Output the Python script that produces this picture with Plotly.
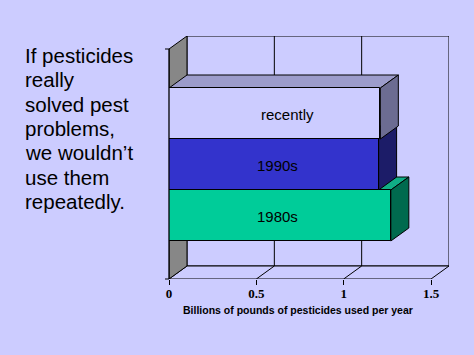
import plotly.graph_objects as go

# ---------------- data ----------------
categories = ["1980s", "1990s", "recently"]
values = [1.27, 1.20, 1.21]          # billions of pounds per year
front_colors = ["#00CC99", "#3333CC", "#CCCCFF"]
top_colors = ["#10AD85", "#26269A", "#9C9CCB"]
side_colors = ["#006A4E", "#1C1C68", "#6C6C92"]
label_xshift = [-2, 4, 13]

x_ticks = [0, 0.5, 1, 1.5]
x_tick_labels = ["0", "0.5", "1", "1.5"]
x_title = "Billions of pounds of pesticides used per year"

text_lines = ["If pesticides", "really", "solved pest", "problems,",
              "we wouldn\u2019t", "use them", "repeatedly."]

# ---------------- style / geometry ----------------
BG = "#CCCCFF"
SANS = "Liberation Sans, Arial, sans-serif"
SERIF = "Liberation Serif, Times New Roman, serif"
X_MAX = 1.5
DX, DY = 0.103, 0.255          # depth offset of the 3D box (data units)
Y_LO, Y_HI = -1.245, 3.265     # front plane vertical extent
YR = [Y_LO, Y_HI + DY]
XR = [0, X_MAX + DX]
ML, MT, MB, MR = 169, 36, 76, 25
W, H = 474, 355
PH = H - MT - MB


def py_to_paper(py):
    return (H - MB - py) / PH


def y_to_paper(y):
    return (y - YR[0]) / (YR[1] - YR[0])


def poly(pts):
    return "M " + " L ".join(f"{x},{y}" for x, y in pts) + " Z"


ypos = list(range(len(categories)))

fig = go.Figure()
fig.add_trace(go.Bar(
    orientation="h", x=values, y=ypos, base=0, width=1,
    marker=dict(color=front_colors, line=dict(color="black", width=1)),
    hoverinfo="skip", showlegend=False,
))

shapes = []
line_k = dict(color="black", width=1)
# back wall
shapes.append(dict(type="rect", xref="x", yref="y", layer="below",
                   x0=DX, x1=X_MAX + DX, y0=Y_LO + DY, y1=Y_HI + DY,
                   fillcolor=BG, line=line_k))
# floor
shapes.append(dict(type="path", xref="x", yref="y", layer="below",
                   path=poly([(0, Y_LO), (DX, Y_LO + DY), (X_MAX + DX, Y_LO + DY), (X_MAX, Y_LO)]),
                   fillcolor=BG, line=line_k))
# left wall
shapes.append(dict(type="path", xref="x", yref="y", layer="below",
                   path=poly([(0, Y_LO), (DX, Y_LO + DY), (DX, Y_HI + DY), (0, Y_HI)]),
                   fillcolor="#878787", line=line_k))
# gridlines on back wall + floor
for t in x_ticks[1:-1]:
    shapes.append(dict(type="line", xref="x", yref="y", layer="below",
                       x0=t + DX, x1=t + DX, y0=Y_LO + DY, y1=Y_HI + DY, line=line_k))
    shapes.append(dict(type="line", xref="x", yref="y", layer="below",
                       x0=t, x1=t + DX, y0=Y_LO, y1=Y_LO + DY, line=line_k))
# 3D faces of bars, bottom to top
for i, v in enumerate(values):
    yt, yb = i + 0.5, i - 0.5
    shapes.append(dict(type="path", xref="x", yref="y", layer="below",
                       path=poly([(0, yt), (DX, yt + DY), (v + DX, yt + DY), (v, yt)]),
                       fillcolor=top_colors[i], line=line_k))
    shapes.append(dict(type="path", xref="x", yref="y", layer="below",
                       path=poly([(v, yb), (v, yt), (v + DX, yt + DY), (v + DX, yb + DY)]),
                       fillcolor=side_colors[i], line=line_k))
# front-left vertical axis line and its small ticks (paper coords, unclipped)
shapes.append(dict(type="line", xref="paper", yref="paper", layer="above",
                   x0=0, x1=0, y0=y_to_paper(Y_LO), y1=y_to_paper(Y_HI),
                   line=dict(color="black", width=1.3)))
for yy in (Y_LO, Y_HI):
    shapes.append(dict(type="line", xref="paper", yref="paper", layer="above",
                       x0=-4 / (W - ML - MR), x1=0, y0=y_to_paper(yy), y1=y_to_paper(yy),
                       line=dict(color="black", width=1)))

annotations = []
for i, (c, v) in enumerate(zip(categories, values)):
    annotations.append(dict(x=v / 2, y=i, xref="x", yref="y", text=c, showarrow=False,
                            xshift=label_xshift[i], yshift=-1,
                            font=dict(family=SANS, size=15, color="black")))
annotations.append(dict(x=X_MAX / 2, y=py_to_paper(309.5), xref="x", yref="paper",
                        yanchor="middle", text=x_title, showarrow=False, xshift=-2,
                        font=dict(family=SANS, size=10.5, color="black", weight="bold")))
FS = 20.5
for k, ln in enumerate(text_lines):
    base = 62.7 + k * 24.3
    annotations.append(dict(x=(23 - ML) / (W - ML - MR), y=py_to_paper(base - 0.35 * FS),
                            xref="paper", yref="paper", xanchor="left", yanchor="middle",
                            text=ln, showarrow=False,
                            font=dict(family=SANS, size=FS, color="black")))

fig.update_layout(
    width=W, height=H,
    margin=dict(l=ML, r=MR, t=MT, b=MB),
    paper_bgcolor=BG, plot_bgcolor="rgba(0,0,0,0)",
    shapes=shapes, annotations=annotations,
    bargap=0,
    xaxis=dict(range=XR, tickvals=x_ticks, ticktext=x_tick_labels,
               ticks="outside", ticklen=5, tickcolor="black", tickwidth=1,
               ticklabelstandoff=-3,
               showgrid=False, zeroline=False, showline=False,
               tickfont=dict(family=SERIF, size=13, color="black", weight="bold")),
    yaxis=dict(range=YR, showticklabels=False, ticks="", showgrid=False,
               zeroline=False, showline=False),
)

fig.write_html(
    "out.html",
    config={"displayModeBar": False},
    post_script="document.body.style.margin='0';document.body.style.background='" + BG + "';",
)
